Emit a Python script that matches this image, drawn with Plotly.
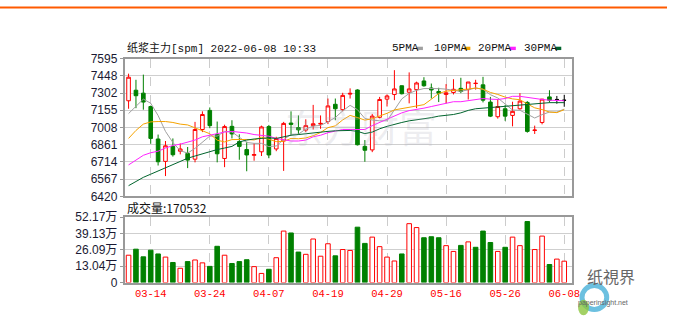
import plotly.graph_objects as go

# ---------------- data ----------------
dates = ["03-09","03-10","03-11","03-14","03-15","03-16","03-17","03-18","03-21","03-22",
         "03-23","03-24","03-25","03-28","03-29","03-30","03-31","04-01","04-06","04-07",
         "04-08","04-11","04-12","04-13","04-14","04-15","04-18","04-19","04-20","04-21",
         "04-22","04-25","04-26","04-27","04-28","04-29","05-05","05-06","05-09","05-10",
         "05-11","05-12","05-13","05-16","05-17","05-18","05-19","05-20","05-23","05-24",
         "05-25","05-26","05-27","05-30","05-31","06-01","06-02","06-06","06-07","06-08"]

open_ = [7236,7326,7301,7187,6910,6719,6847,6806,6787,6738,
         6991,7154,6948,6744,7018,6888,6820,6771,6801,7016,
         6825,6893,7046,7008,6986,7024,7037,7059,7206,7160,
         7293,7328,6847,6817,7095,7250,7290,7364,7309,7331,
         7405,7345,7315,7290,7307,7342,7331,7383,7372,7225,
         7100,7168,7111,7168,7222,6983,7051,7269,7247,7240]
high = [7467,7415,7459,7195,6948,6893,6915,6872,6842,7056,
        7146,7179,7059,7032,7070,6950,6888,6874,7024,7030,
        6929,7056,7146,7111,7078,7201,7111,7255,7255,7304,
        7342,7334,6901,7124,7269,7290,7497,7367,7478,7399,
        7437,7383,7347,7378,7420,7432,7396,7415,7440,7269,
        7250,7201,7228,7301,7233,7024,7252,7326,7277,7287]
low = [7168,7173,7160,6869,6684,6594,6760,6779,6662,6711,
       6969,7002,6711,6670,6915,6733,6635,6725,6765,6746,
       6806,6638,6942,6948,6969,6991,6997,7037,7070,7146,
       7255,6855,6716,6798,7086,7187,7241,7290,7214,7173,
       7356,7255,7225,7217,7290,7301,7247,7331,7222,7097,
       7084,7065,7018,7160,6964,6953,7035,7220,7211,7185]
close = [7437,7279,7225,6915,6716,6852,6776,6825,6730,6991,
         7119,7024,6784,7016,6953,6847,6774,6777,7013,6774,
         6915,7043,7035,6988,7024,7040,7043,7192,7168,7282,
         7299,6861,6814,7105,7247,7277,7337,7296,7337,7388,
         7364,7328,7301,7304,7334,7315,7396,7385,7241,7105,
         7187,7105,7146,7233,6975,6986,7250,7241,7247,7240]

ma5 = [7127,7187,7250,7215,7110,6975,6880,6810,6790,6830,
       6885,6935,6935,6975,6970,6925,6880,6873,6873,6845,
       6851,6904,6950,6951,6995,7020,7026,7057,7093,7150,
       7197,7160,7085,7072,7065,7065,7156,7252,7299,7325,
       7340,7343,7340,7335,7326,7316,7330,7345,7334,7288,
       7260,7205,7157,7155,7125,7089,7118,7140,7140,7165]
ma10 = [6915,6983,7037,7056,7059,7059,7051,7037,7030,7005,
        6985,6955,6900,6885,6905,6907,6906,6902,6925,6908,
        6888,6890,6915,6912,6919,6938,6965,7007,7022,7073,
        7111,7093,7071,7083,7105,7129,7158,7169,7186,7196,
        7203,7249,7298,7318,7327,7330,7336,7345,7335,7307,
        7290,7267,7252,7245,7209,7176,7161,7140,7135,7160]
ma20 = [6689,6730,6771,6793,6806,6833,6855,6866,6882,6901,
        6929,6942,6956,6969,6975,6969,6961,6948,6942,6934,
        6915,6901,6893,6893,6901,6929,6942,6964,6975,6991,
        6991,6991,6991,7024,7051,7078,7105,7133,7152,7160,
        7173,7187,7201,7214,7228,7228,7236,7247,7255,7250,
        7247,7255,7274,7274,7263,7255,7247,7241,7236,7236]
ma30 = [6512,6548,6583,6610,6638,6665,6689,6719,6746,6765,
        6784,6801,6820,6833,6847,6885,6901,6910,6915,6920,
        6915,6929,6942,6948,6956,6961,6969,6975,6980,6983,
        6983,6975,6956,6969,6997,7018,7037,7051,7065,7073,
        7084,7092,7105,7111,7119,7133,7154,7168,7173,7182,
        7187,7190,7192,7201,7203,7209,7214,7220,7220,7220]

# volume in 万 (10k lots); 1 = red (up) bar, 0 = green (down) bar
volume_wan = [21.8,26.6,20.5,25.8,22.8,20.3,16.0,11.4,16.7,18.0,
              15.7,12.9,28.9,21.8,15.2,16.7,18.2,12.7,7.3,10.6,
              19.8,41.0,39.5,24.3,22.5,34.7,21.0,30.9,21.3,26.3,
              25.6,44.1,31.2,36.2,28.6,20.3,17.2,22.8,46.9,43.8,
              35.7,36.5,35.7,29.4,24.8,29.6,32.4,28.1,41.0,31.9,
              24.8,28.1,36.2,29.4,48.6,26.3,37.0,14.4,18.7,17.05]
volume_up = [1,0,0,0,0,1,0,1,0,1, 1,0,0,1,0,0,0,1,1,0,
             1,1,0,0,1,1,1,1,0,1, 1,0,0,1,1,1,1,0,1,1,
             0,0,0,1,1,0,1,0,0,0, 1,0,1,1,0,1,1,0,1,1]

price_ticks = [6420,6567,6714,6861,7008,7155,7302,7448,7595]
vol_ticks = [0,13.04,26.09,39.13,52.17]
vol_tick_text = ["0","13.04万","26.09万","39.13万","52.17万"]
date_ticks = ["03-14","03-24","04-07","04-19","04-29","05-16","05-26","06-08"]

title_text = "纸浆主力[spm] 2022-06-08 10:33"
volume_label = "成交量:170532"
ma_names = ["5PMA","10PMA","20PMA","30PMA"]
ma_colors = ["#a0a0a0","#f5a300","#ff22ff","#00642d"]

RED = "#ff0000"
GREEN = "#008000"

# ---------------- layout helpers ----------------
W, H = 675, 325
def fx(x): return x / W
def fy(y): return 1 - y / H

L, R = 126, 579
MAIN_T, MAIN_B = 54, 198
VOL_T, VOL_B = 219.5, 288

fig = go.Figure()

def subset(idx):
    return dict(x=[dates[i] for i in idx], open=[open_[i] for i in idx],
                high=[high[i] for i in idx], low=[low[i] for i in idx],
                close=[close[i] for i in idx])

n = len(dates)
flat_idx = [i for i in range(n) if close[i] == open_[i]]
other_idx = [i for i in range(n) if close[i] != open_[i]]

fig.add_trace(go.Candlestick(
    **subset(other_idx), xaxis="x", yaxis="y",
    increasing=dict(line=dict(color=RED, width=1), fillcolor="white"),
    decreasing=dict(line=dict(color=GREEN, width=1), fillcolor=GREEN),
    whiskerwidth=0, showlegend=False, hoverinfo="skip"))
fig.add_trace(go.Candlestick(
    **subset(flat_idx), xaxis="x", yaxis="y",
    increasing=dict(line=dict(color="black", width=1), fillcolor="black"),
    decreasing=dict(line=dict(color="black", width=1), fillcolor="black"),
    whiskerwidth=0, showlegend=False, hoverinfo="skip"))

for vals, name, col in zip([ma5, ma10, ma20, ma30], ma_names, ma_colors):
    fig.add_trace(go.Scatter(x=dates, y=vals, mode="lines", name=name,
                             line=dict(color=col, width=1), xaxis="x", yaxis="y",
                             showlegend=False, hoverinfo="skip"))

fig.add_trace(go.Bar(
    x=dates, y=volume_wan, xaxis="x2", yaxis="y2", width=0.62,
    marker=dict(color=["white" if u else GREEN for u in volume_up],
                line=dict(color=[RED if u else GREEN for u in volume_up], width=1)),
    showlegend=False, hoverinfo="skip"))

axis_common = dict(type="category", categoryorder="array", categoryarray=dates,
                   range=[-0.55, n + 0.07], showgrid=True, gridcolor="#cccccc",
                   griddash="dash", gridwidth=1, tickmode="array", tickvals=date_ticks,
                   ticktext=date_ticks, showline=True, linecolor="#999999", mirror=True,
                   linewidth=1.5, zeroline=False, rangeslider=dict(visible=False),
                   ticks="", fixedrange=True)

fig.update_layout(
    width=W, height=H, autosize=False,
    margin=dict(l=0, r=0, t=0, b=0),
    paper_bgcolor="white", plot_bgcolor="white",
    xaxis=dict(domain=[fx(L), fx(R)], anchor="y", showticklabels=False, **axis_common),
    xaxis2=dict(domain=[fx(L), fx(R)], anchor="y2", matches="x", showticklabels=True,
                tickfont=dict(family="Liberation Mono", size=10.5, color=RED), **axis_common),
    yaxis=dict(domain=[fy(MAIN_B), fy(MAIN_T)], range=[price_ticks[0], price_ticks[-1]],
               tickmode="array", tickvals=price_ticks, ticktext=[str(v) for v in price_ticks],
               showgrid=True, gridcolor="#cfcfcf", gridwidth=1, zeroline=False,
               showline=True, linecolor="#999999", mirror=True, linewidth=1.5,
               tickfont=dict(family="Liberation Sans", size=12, color="#1a1a33"),
               ticks="outside", ticklen=3, tickcolor="#999999", fixedrange=True),
    yaxis2=dict(domain=[fy(VOL_B), fy(VOL_T)], range=[0, vol_ticks[-1]],
                tickmode="array", tickvals=vol_ticks, ticktext=vol_tick_text,
                showgrid=True, gridcolor="#cfcfcf", gridwidth=1, zeroline=False,
                showline=True, linecolor="#999999", mirror=True, linewidth=1.5,
                tickfont=dict(family="Liberation Sans, Noto Sans CJK SC", size=12, color="#1a1a33"),
                ticks="outside", ticklen=3, tickcolor="#999999", fixedrange=True),
)

ann = []
ann.append(dict(x=fx(126), y=fy(43), xref="paper", yref="paper", xanchor="left", yanchor="middle",
                text=title_text, showarrow=False,
                font=dict(family="Liberation Mono, Noto Sans CJK SC", size=11, color="#111111")))
ann.append(dict(x=fx(126), y=fy(210), xref="paper", yref="paper", xanchor="left", yanchor="middle",
                text=volume_label, showarrow=False,
                font=dict(family="Noto Sans CJK SC, Liberation Sans", size=12, color="#111111")))
leg_x = [395, 437, 482, 528]
sq_x = [422, 470, 516, 562]
shapes = []
for name, col, lx, sx in zip(ma_names, ma_colors, leg_x, sq_x):
    ann.append(dict(x=fx(lx), y=fy(43), xref="paper", yref="paper", xanchor="left", yanchor="middle",
                    text=name, showarrow=False,
                    font=dict(family="Liberation Mono", size=11, color="#111111")))
    shapes.append(dict(type="rect", xref="paper", yref="paper",
                       x0=fx(sx), x1=fx(sx + 6), y0=fy(45), y1=fy(41.5),
                       fillcolor=col, line=dict(width=0)))
ann.append(dict(x=fx(365), y=fy(124), xref="paper", yref="paper", text="东方财富",
                showarrow=False, font=dict(family="Noto Sans CJK SC", size=38, color="rgba(175,175,190,0.22)")))
ann.append(dict(x=fx(645), y=fy(296), xref="paper", yref="paper", text="纸視界",
                showarrow=False, font=dict(family="Noto Sans CJK SC", size=16, color="#666666")))
ann.append(dict(x=fx(638), y=fy(316), xref="paper", yref="paper", text="paperinsight.net",
                showarrow=False, font=dict(family="Liberation Sans", size=7, color="#666666")))

shapes.append(dict(type="line", xref="paper", yref="paper", x0=0, x1=1, y0=fy(0.5), y1=fy(0.5),
                   line=dict(color="#ff5a00", width=2)))
shapes.append(dict(type="circle", xref="paper", yref="paper", x0=fx(589), x1=fx(614), y0=fy(316), y1=fy(291),
                   line=dict(color="#6cc0e0", width=5), fillcolor="rgba(0,0,0,0)"))
shapes.append(dict(type="circle", xref="paper", yref="paper", x0=fx(585), x1=fx(596), y0=fy(322), y1=fy(306),
                   line=dict(color="#7dbb3c", width=0), fillcolor="#8cc63f", opacity=0.8))

fig.update_layout(annotations=ann, shapes=shapes)
fig.write_html("out.html", config={"displayModeBar": False},
               post_script="document.body.style.margin='0px';document.body.style.padding='0px';"
                           "document.documentElement.style.overflow='hidden';")
